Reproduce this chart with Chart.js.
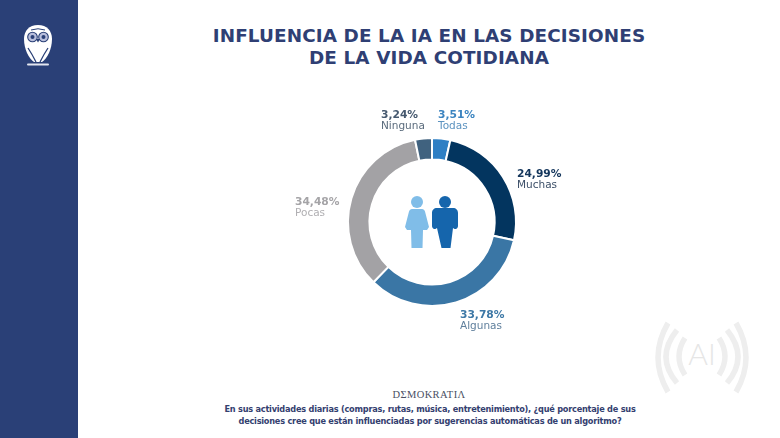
<!DOCTYPE html>
<html lang="es">
<head>
<meta charset="utf-8">
<title>Influencia de la IA en las decisiones de la vida cotidiana</title>
<script src="https://cdn.jsdelivr.net/npm/chart.js@4"></script>
<style>
  html, body { margin: 0; padding: 0; background: #fff; }
  #page { position: relative; width: 780px; height: 438px; overflow: hidden; background: #fff; }
  #side { position: absolute; left: 0; top: 0; width: 78px; height: 438px; background: #2a4077; }
  #owl { position: absolute; left: 20px; top: 23px; }
  #title { position: absolute; left: 130px; width: 600px; top: 25px; text-align: center; color: #2f3f74;
           font: 700 18.4px/22px "DejaVu Sans", sans-serif; letter-spacing: .1px; margin-left: -1px; }
  #chartBox { position: absolute; left: 232px; top: 62px; width: 400px; height: 320px; }
  #people { position: absolute; left: 404px; top: 194px; }
  #waves { position: absolute; left: 650px; top: 318px; }
  #brand { position: absolute; left: 214px; width: 430px; top: 388px; text-align: center; color: #4a4f63;
           font: 400 10.5px/14px "Liberation Serif", serif; letter-spacing: .4px; }
  #question { position: absolute; left: 190px; width: 480px; top: 404px; text-align: center; color: #34406f;
              font: 700 8.2px/11.5px "DejaVu Sans", sans-serif; letter-spacing: -.23px; }
</style>
</head>
<body>
<div id="page">
  <div id="side"></div>
  <svg id="owl" width="38" height="46" viewBox="0 0 38 46">
    <path d="M18 2C9 2 4 8 4 16c0 10 5 20 10 23h8c5-3 10-13 10-23C32 8 27 2 18 2Z" fill="#fff"/>
    <circle cx="12.500" cy="14" r="4.800" fill="#b9bfdc" stroke="#2a4077" stroke-width="1.100"/>
    <circle cx="23.500" cy="14" r="4.800" fill="#b9bfdc" stroke="#2a4077" stroke-width="1.100"/>
    <circle cx="12.500" cy="14" r="2" fill="#2a4077"/>
    <circle cx="23.500" cy="14" r="2" fill="#2a4077"/>
    <path d="M16 16h4l-2 3.500Z" fill="#2a4077"/>
    <path d="M11 7q7-2.500 14 0" fill="none" stroke="#2a4077" stroke-width="1"/>
    <path d="M8 25q4 6 8 14M28 25q-4 6-8 14" fill="none" stroke="#2a4077" stroke-width="1.300"/>
    <rect x="7" y="40.500" width="22" height="2" rx="1" fill="#e3e6f0"/>
  </svg>

  <div id="title">INFLUENCIA DE LA IA EN LAS DECISIONES<br>DE LA VIDA COTIDIANA</div>

  <div id="chartBox"><canvas id="donut"></canvas></div>

  <svg id="people" width="56" height="56" viewBox="0 0 56 56">
    <g fill="#80bde8">
      <circle cx="13" cy="8" r="6"/>
      <path d="M8 15h10c1.500 0 2.500 1 3 2.500L25 33l-2 3h-4l-.5 18h-11L7 36H3l-2-3L5 17.500C5.500 16 6.500 15 8 15Z"/>
    </g>
    <g fill="#1565ac">
      <circle cx="41" cy="8" r="6"/>
      <path d="M33 14h16c3 0 5 2 5 5v13c0 1.500-1 3-2.500 3-1 0-2-.5-2.500-1l-2.500 20h-9L33 34c-.5.5-1.500 1-2.500 1-1.500 0-2.500-1.500-2.500-3V19c0-3 2-5 5-5Z"/>
    </g>
  </svg>

  <svg id="waves" width="104" height="84" viewBox="0 0 104 84" fill="none" stroke="#eeeeee" stroke-width="5.500">
    <path d="M18 5Q-2 39.500 18 74"/>
    <path d="M27 12Q5 39 27 65"/>
    <path d="M35 20Q23 38.500 35 57"/>
    <path d="M86 5Q106 39.500 86 74"/>
    <path d="M77 12Q99 39 77 65"/>
    <path d="M69 20Q81 38.500 69 57"/>
    <text x="52" y="47" text-anchor="middle" fill="#e6e6e6" stroke="none" font-family="Lato, sans-serif" font-weight="300" font-size="30">AI</text>
  </svg>

  <div id="brand">DΣMOKRATIΛ</div>
  <div id="question">En sus actividades diarias (compras, rutas, música, entretenimiento), ¿qué porcentaje de sus<br>decisiones cree que están influenciadas por sugerencias automáticas de un algoritmo?</div>
</div>

<script>
// Share of answers per category, clockwise from twelve o'clock
const categories = ["Todas", "Muchas", "Algunas", "Pocas", "Ninguna"];
const shares = [3.51, 24.99, 33.78, 34.48, 3.24];
const sliceColors = ["#2e7fc4", "#03355f", "#3a76a5", "#a3a2a5", "#40627f"];
const valueColors = ["#3b84c0", "#14365c", "#3d78a6", "#a5a4a7", "#46596f"];
const nameColors = ["#5c93c0", "#3c4f68", "#5f7f9c", "#b0afb2", "#5a6b7c"];
// Label anchors, relative to the ring centre (left edge of the text, value baseline)
const labelOffsets = [[6, -104], [85, -45], [28, 96], [-137, -17], [-51, -104]];

const formatShare = v => v.toFixed(2).replace(".", ",") + "%";

const sliceLabels = {
  id: "sliceLabels",
  afterDatasetsDraw(chart) {
    const { ctx } = chart;
    const arc = chart.getDatasetMeta(0).data[0];
    ctx.save();
    ctx.textAlign = "left";
    ctx.textBaseline = "alphabetic";
    categories.forEach((name, i) => {
      const x = arc.x + labelOffsets[i][0];
      const y = arc.y + labelOffsets[i][1];
      ctx.font = '700 10.7px "DejaVu Sans", sans-serif';
      ctx.fillStyle = valueColors[i];
      ctx.fillText(formatShare(shares[i]), x, y);
      ctx.font = '400 10.5px "DejaVu Sans", sans-serif';
      ctx.fillStyle = nameColors[i];
      ctx.fillText(name, x, y + 11);
    });
    ctx.restore();
  }
};

new Chart(document.getElementById("donut"), {
  type: "doughnut",
  data: {
    labels: categories,
    datasets: [{
      data: shares,
      backgroundColor: sliceColors,
      borderColor: "#ffffff",
      borderWidth: 2
    }]
  },
  options: {
    responsive: true,
    maintainAspectRatio: false,
    animation: false,
    cutout: "74.500%",
    radius: 84,
    plugins: { legend: { display: false }, tooltip: { enabled: false } }
  },
  plugins: [sliceLabels]
});
</script>
</body>
</html>
